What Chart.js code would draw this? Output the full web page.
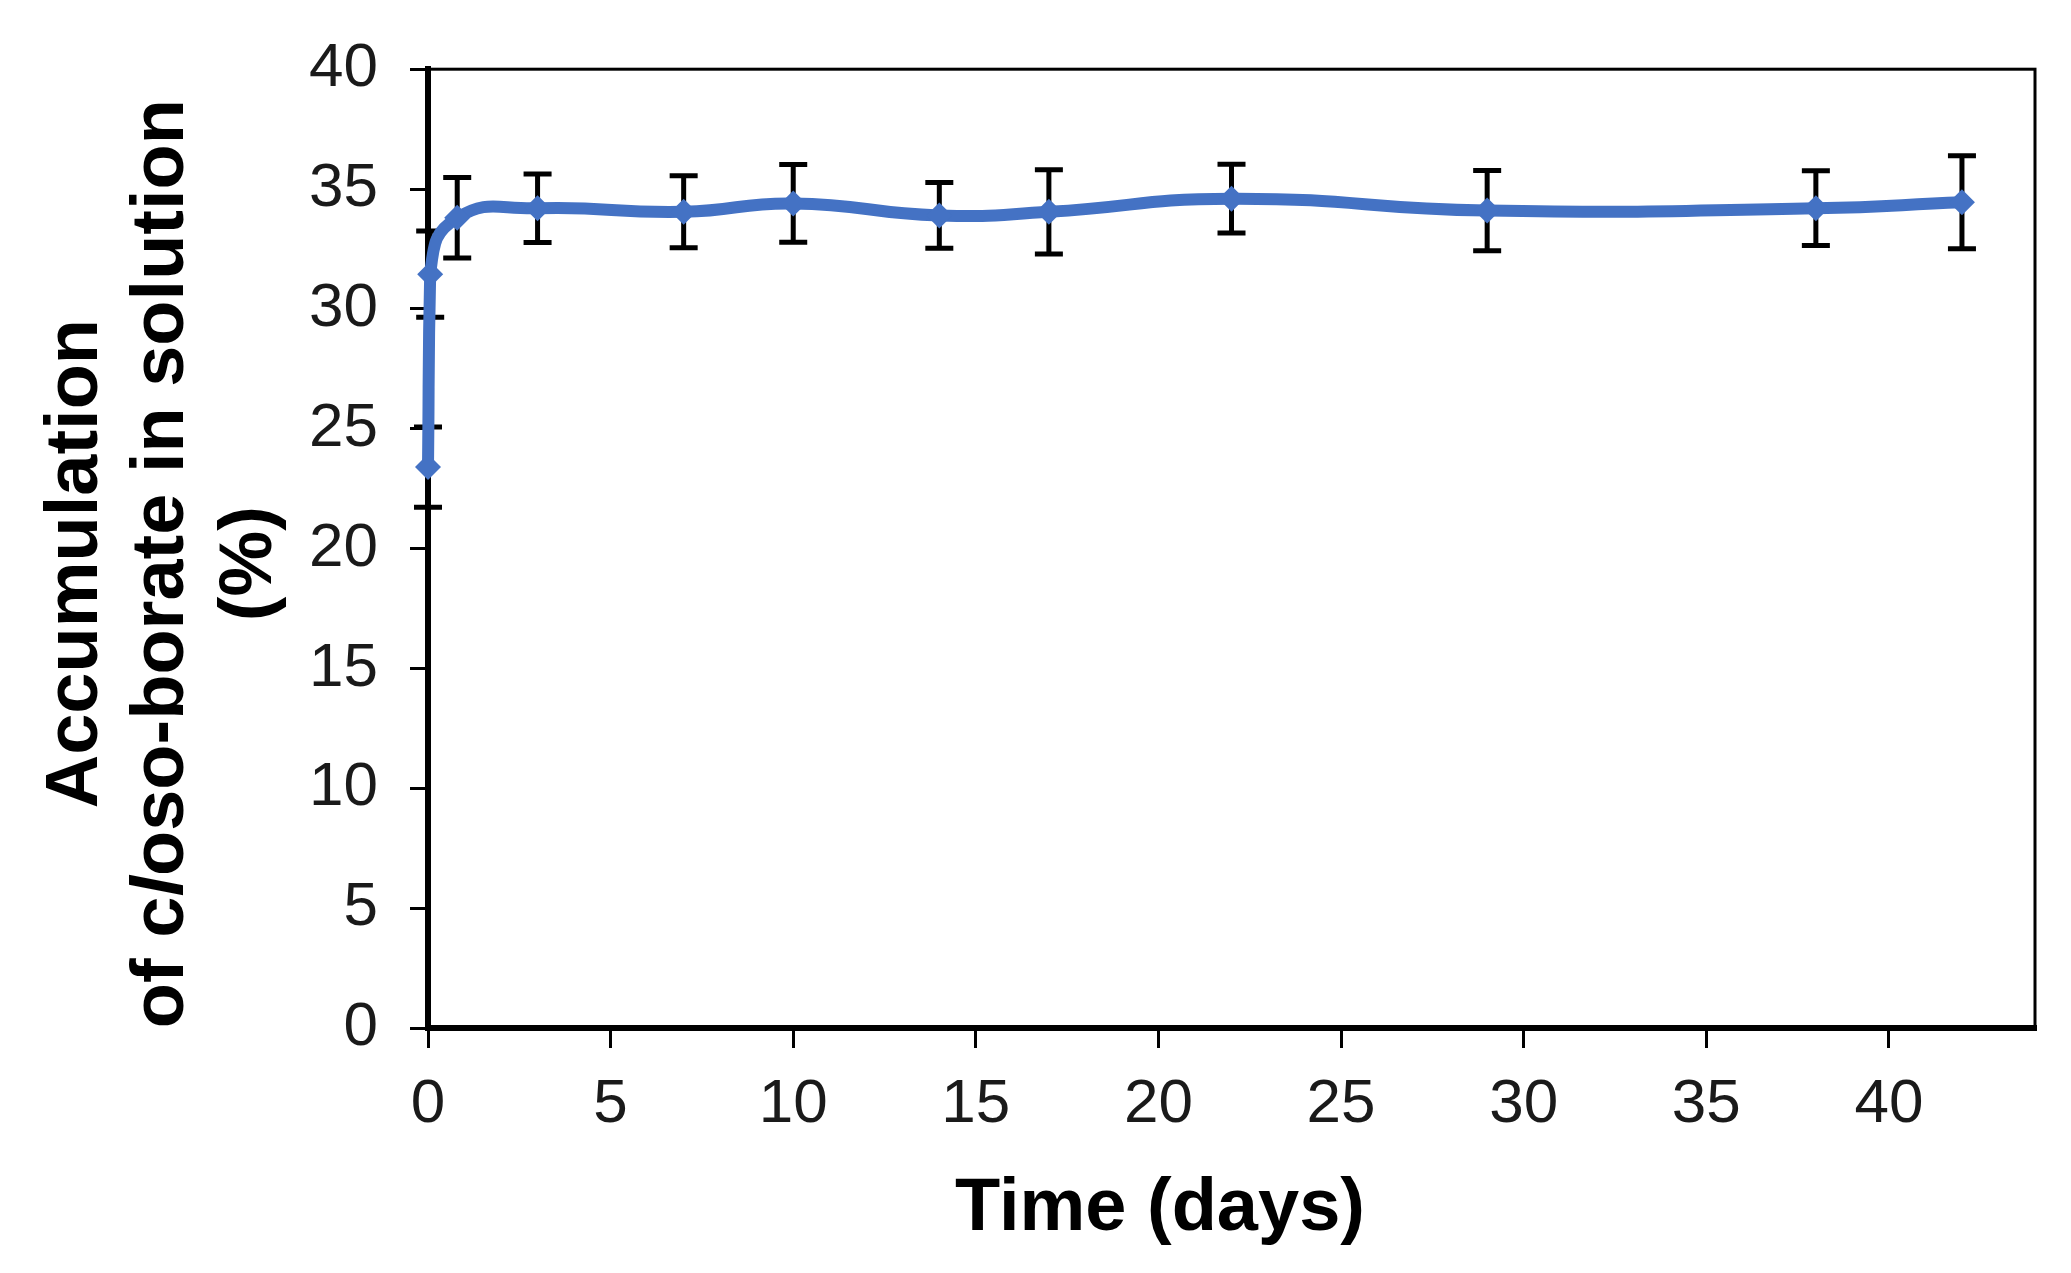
<!DOCTYPE html>
<html lang="en">
<head>
  <meta charset="UTF-8" />
  <title>Accumulation of closo-borate in solution</title>
  <script src="https://cdn.jsdelivr.net/npm/chart.js"></script>
  <style>
    body { margin: 0; background: #fff; }
    #wrap { width: 2071px; height: 1273px; }
  </style>
</head>
<body>
  <div id="wrap"><canvas id="chart" width="2071" height="1273"></canvas></div>

  <script>
    // time points (days) and measured accumulation (%) with SD
    const days = [0, 0.06, 0.8, 3, 7, 10, 14, 17, 22, 29, 38, 42];
    const accumulation = [23.4, 31.45, 33.8, 34.2, 34.05, 34.4, 33.9, 34.05, 34.6, 34.1, 34.2, 34.45];
    const errors = [1.67, 1.8, 1.68, 1.43, 1.5, 1.62, 1.37, 1.76, 1.43, 1.67, 1.56, 1.94];
    const xTicks = [0, 5, 10, 15, 20, 25, 30, 35, 40];
    const yTicks = [0, 5, 10, 15, 20, 25, 30, 35, 40];

    const FONT = "'Liberation Sans', Arial, sans-serif";
    const blue = '#4472C4';

    // error bars, drawn under the line
    const errorBars = {
      id: 'errorBars',
      beforeDatasetsDraw(chart) {
        const { ctx, scales: { x, y } } = chart;
        ctx.save();
        ctx.strokeStyle = '#000';
        ctx.lineWidth = 5;
        days.forEach((d, i) => {
          const px = x.getPixelForValue(d);
          const top = y.getPixelForValue(accumulation[i] + errors[i]);
          const bot = y.getPixelForValue(accumulation[i] - errors[i]);
          ctx.beginPath();
          ctx.moveTo(px, top); ctx.lineTo(px, bot);
          ctx.moveTo(px - 14, top); ctx.lineTo(px + 14, top);
          ctx.moveTo(px - 14, bot); ctx.lineTo(px + 14, bot);
          ctx.stroke();
        });
        ctx.restore();
      }
    };

    // box round the plot area + axis titles
    const frameAndTitles = {
      id: 'frameAndTitles',
      beforeDatasetsDraw(chart) {
        const { ctx, chartArea: a } = chart;
        ctx.save();
        ctx.strokeStyle = '#000';
        ctx.lineWidth = 3;
        ctx.strokeRect(a.left, a.top, a.right - a.left, a.bottom - a.top);
        ctx.restore();
      },
      afterDraw(chart) {
        const { ctx, chartArea: a } = chart;
        ctx.save();
        ctx.fillStyle = '#000';

        // x title
        ctx.font = `bold 74px ${FONT}`;
        ctx.textAlign = 'center';
        ctx.textBaseline = 'alphabetic';
        ctx.fillText('Time (days)', a.left + 732, a.bottom + 202);

        // y title, three lines, "l" of closo in italic
        const cy = (a.top + a.bottom) / 2 + 15;
        const lines = [
          [['Accumulation', false]],
          [['of c', false], ['l', true], ['oso-borate in solution', false]],
          [['(%)', false]]
        ];
        const baselines = [97, 183, 271];
        ctx.textAlign = 'left';
        lines.forEach((parts, li) => {
          const fonts = parts.map(p => (p[1] ? 'italic ' : '') + `bold 74px ${FONT}`);
          let total = 0;
          const widths = parts.map((p, k) => { ctx.font = fonts[k]; const w = ctx.measureText(p[0]).width; total += w; return w; });
          ctx.save();
          ctx.translate(baselines[li], cy);
          ctx.rotate(-Math.PI / 2);
          let xx = -total / 2;
          parts.forEach((p, k) => {
            ctx.font = fonts[k];
            ctx.fillText(p[0], xx, 0);
            xx += widths[k];
          });
          ctx.restore();
        });
        ctx.restore();
      }
    };

    new Chart(document.getElementById('chart'), {
      type: 'scatter',
      data: {
        datasets: [{
          data: days.map((d, i) => ({ x: d, y: accumulation[i] })),
          showLine: true,
          tension: 0.5,
          borderColor: blue,
          borderWidth: 12,
          backgroundColor: blue,
          pointStyle: 'rectRot',
          pointRadius: 13,
          pointBorderWidth: 0,
          clip: false
        }]
      },
      options: {
        responsive: false,
        devicePixelRatio: 1,
        animation: false,
        layout: { padding: { top: 68, right: 36, left: 0, bottom: 0 } },
        plugins: { legend: { display: false }, tooltip: { enabled: false } },
        scales: {
          x: {
            type: 'linear',
            min: 0, max: 44,
            afterBuildTicks: s => { s.ticks = xTicks.map(v => ({ value: v })); },
            afterFit: s => { s.height = 245; },
            grid: { drawOnChartArea: false, drawTicks: true, tickLength: 20, color: '#000', lineWidth: 3 },
            border: { display: true, color: '#000', width: 6 },
            ticks: { color: '#1a1a1a', font: { family: FONT, size: 62 }, padding: 20, maxRotation: 0 }
          },
          y: {
            min: 0, max: 40,
            afterBuildTicks: s => { s.ticks = yTicks.map(v => ({ value: v })); },
            afterFit: s => { s.width = 428; },
            grid: { drawOnChartArea: false, drawTicks: true, tickLength: 18, color: '#000', lineWidth: 3 },
            border: { display: true, color: '#000', width: 6 },
            ticks: { color: '#1a1a1a', font: { family: FONT, size: 62 }, padding: 32 }
          }
        }
      },
      plugins: [errorBars, frameAndTitles]
    });
  </script>
</body>
</html>
